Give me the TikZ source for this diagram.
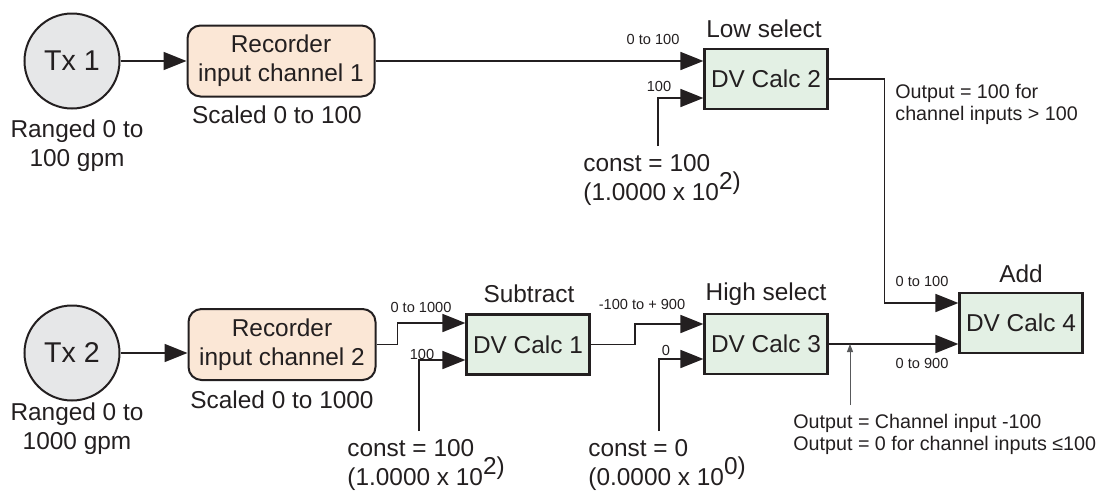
\documentclass[tikz,border=0pt]{standalone}
\usepackage{fontspec}
\setmainfont{Liberation Sans}
\usetikzlibrary{arrows.meta,calc}

\definecolor{linie}{HTML}{231F20}
\definecolor{txgrau}{HTML}{E6E7E8}
\definecolor{recfarbe}{HTML}{FBE7D6}
\definecolor{dvfarbe}{HTML}{E3F0E4}
\definecolor{hinweisgrau}{HTML}{58595B}

\newcommand{\hoch}[1]{\raisebox{0.45em}{#1}}

\begin{document}
\begin{tikzpicture}[x=0.5pt, y=-0.5pt,
        tx/.style={circle, draw=linie, fill=txgrau, line width=1pt, minimum size=47.5pt, inner sep=0pt, text=linie, font=\fontsize{14.3}{16}\selectfont},
        rec/.style={draw=linie, fill=recfarbe, rounded corners=6.5pt, line width=1pt, minimum width=93.5pt, minimum height=35.5pt, inner sep=0pt, align=center, text=linie, font=\fontsize{12.2}{14.5}\selectfont},
        dv/.style={draw=linie, fill=dvfarbe, line width=1.1pt, minimum width=61.5pt, minimum height=30pt, inner sep=0pt, text=linie, font=\fontsize{12.2}{14}\selectfont},
        gross/.style={inner sep=0pt, text=linie, font=\fontsize{12.2}{14.5}\selectfont},
        klein/.style={inner sep=0pt, text=linie, font=\fontsize{7.3}{8.5}\selectfont},
        notiz/.style={inner sep=0pt, align=left, text=linie, font=\fontsize{9.85}{11}\selectfont},
        pfeil/.style={draw=linie, line width=0.9pt, -{Triangle[length=11.5pt,width=9pt]}},
        hinweispfeil/.style={draw=hinweisgrau, line width=0.5pt, -{Triangle[length=4pt,width=3pt]}}]
        \useasboundingbox (0,0) rectangle (1099,493);

        % Geber
        \node[tx] (tx1) at (72,61) {Tx 1};
        \node[tx] (tx2) at (72,353) {Tx 2};
        \node[gross, align=center] (rng1) at (77,145.5) {Ranged 0 to\\100 gpm};
        \node[gross, align=center] (rng2) at (77,429) {Ranged 0 to\\1000 gpm};

        % Recorder-Kanaele
        \node[rec] (rec1) at (281,61) {Recorder\\input channel 1};
        \node[rec] (rec2) at (282,344.5) {Recorder\\input channel 2};
        \node[gross] (skl1) at (277,115) {Scaled 0 to 100};
        \node[gross] (skl2) at (282,400) {Scaled 0 to 1000};

        % DV-Rechenbloecke
        \node[dv] (dv1) at (528,344.5) {DV Calc 1};
        \node[dv] (dv2) at (766,79) {DV Calc 2};
        \node[dv] (dv3) at (766,344) {DV Calc 3};
        \node[dv] (dv4) at (1021,323) {DV Calc 4};
        \node[gross] (sub) at (529,294) {Subtract};
        \node[gross] (low) at (764,29) {Low select};
        \node[gross] (high) at (766,294) {High select};
        \node[gross] (add) at (1021,274) {Add};

        % Konstanten
        \node[gross, align=left, anchor=west] (k1) at (583,180) {const = 100\\(1.0000 x 10\hoch{2)}};
        \node[gross, align=left, anchor=west] (k2) at (347,465) {const = 100\\(1.0000 x 10\hoch{2)}};
        \node[gross, align=left, anchor=west] (k3) at (588,465) {const = 0\\(0.0000 x 10\hoch{0)}};

        % Bereiche an den Leitungen
        \foreach \pos/\txt [count=\i] in {{(653,39)}/{0 to 100}, {(659,86)}/{100},
                {(421,307)}/{0 to 1000}, {(422,354)}/{100}, {(642,304)}/{-100 to + 900},
                {(666,350)}/{0}, {(922,281)}/{0 to 100}, {(922,363)}/{0 to 900}} {
                \node[klein] (bereich\i) at \pos {\txt};
            }

        % Hinweise
        \node[notiz, anchor=west] (out2) at (895,104) {Output = 100 for\\channel inputs > 100};
        \node[notiz, anchor=west] (out3) at (793,434) {Output = Channel input -100\\Output = 0 for channel inputs ≤100};
        \coordinate (hw) at (850,405);

        % Verbindungen
        \draw[pfeil] (tx1) -- (rec1);
        \draw[pfeil] (tx2.east) -- (tx2.east -| rec2.west);
        \draw[pfeil] (rec1.east) -- (rec1.east -| dv2.west);
        \draw[pfeil] ([xshift=-2pt,yshift=4pt]k1.north) |- ($(dv2.west)+(0,19)$);
        \draw[pfeil] (dv2.east) -| ($(dv4.west)+(-74,-20)$) -- ($(dv4.west)+(0,-20)$);
        \draw[pfeil] (rec2.east) -- ++(21,0) |- ($(dv1.west)+(0,-21.5)$);
        \draw[pfeil] ([xshift=-3.5pt,yshift=4pt]k2.north) |- ($(dv1.west)+(0,15.5)$);
        \draw[pfeil] (dv1.east) -- ++(44,0) |- ($(dv3.west)+(0,-20)$);
        \draw[pfeil] ([xshift=-4pt,yshift=4pt]k3.north) |- ($(dv3.west)+(0,15)$);
        \draw[pfeil] (dv3.east) -- (dv3.east -| dv4.west);
        \draw[hinweispfeil] (hw) -- (hw |- dv3.east);

    \end{tikzpicture}
\end{document}
